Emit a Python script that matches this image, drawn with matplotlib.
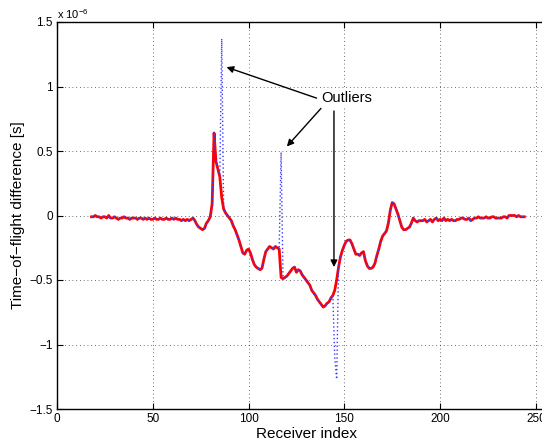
import numpy as np
import matplotlib
matplotlib.use("Agg")
import matplotlib.pyplot as plt

plt.rcParams["font.family"] = ["Liberation Sans", "DejaVu Sans"]

# ---------------------------------------------------------------------------
# Data: time-of-flight difference per receiver, in units of 1e-6 s
# ---------------------------------------------------------------------------
receiver_start = 18
filtered_us = [
    -0.01, -0.01, 0.00, -0.01, -0.01, -0.02, -0.01, -0.01, -0.02, 0.00,    # 18-27
    -0.02, -0.02, -0.01, -0.02, -0.03, -0.02, -0.02, -0.01, -0.02, -0.02,  # 28-37
    -0.03, -0.02, -0.02, -0.02, -0.03, -0.02, -0.02, -0.03, -0.02, -0.03,  # 38-47
    -0.02, -0.03, -0.03, -0.02, -0.03, -0.03, -0.02, -0.03, -0.03, -0.02,  # 48-57
    -0.03, -0.03, -0.02, -0.03, -0.02, -0.03, -0.03, -0.04, -0.03, -0.04,  # 58-67
    -0.03, -0.04, -0.03, -0.02, -0.04, -0.07, -0.09, -0.10, -0.11, -0.10,  # 68-77
    -0.06, -0.04, -0.01, 0.09, 0.64, 0.42, 0.36, 0.30, 0.14, 0.05,         # 78-87
    0.02, 0.00, -0.02, -0.04, -0.08, -0.11, -0.15, -0.19, -0.24, -0.29,    # 88-97
    -0.30, -0.27, -0.26, -0.29, -0.34, -0.38, -0.40, -0.41, -0.42, -0.41,  # 98-107
    -0.34, -0.28, -0.26, -0.24, -0.25, -0.26, -0.24, -0.25, -0.26, -0.48,  # 108-117
    -0.49, -0.48, -0.47, -0.45, -0.43, -0.41, -0.40, -0.44, -0.42, -0.43,  # 118-127
    -0.46, -0.48, -0.50, -0.52, -0.54, -0.58, -0.60, -0.62, -0.65, -0.67,  # 128-137
    -0.69, -0.71, -0.70, -0.68, -0.67, -0.64, -0.62, -0.58, -0.50, -0.40,  # 138-147
    -0.32, -0.27, -0.23, -0.20, -0.19, -0.19, -0.22, -0.26, -0.30, -0.30,  # 148-157
    -0.31, -0.29, -0.28, -0.35, -0.39, -0.41, -0.41, -0.40, -0.37, -0.31,  # 158-167
    -0.26, -0.20, -0.16, -0.14, -0.12, -0.06, 0.04, 0.10, 0.09, 0.05,      # 168-177
    0.01, -0.04, -0.09, -0.11, -0.11, -0.10, -0.09, -0.06, -0.02, -0.04,   # 178-187
    -0.05, -0.04, -0.04, -0.04, -0.03, -0.05, -0.04, -0.03, -0.05, -0.03,  # 188-197
    -0.02, -0.04, -0.03, -0.04, -0.02, -0.04, -0.03, -0.04, -0.03, -0.04,  # 198-207
    -0.04, -0.03, -0.03, -0.02, -0.02, -0.03, -0.03, -0.02, -0.04, -0.03,  # 208-217
    -0.02, -0.02, -0.01, -0.02, -0.02, -0.02, -0.01, -0.02, -0.02, -0.01,  # 218-227
    -0.01, -0.02, -0.02, -0.02, -0.02, -0.01, -0.01, -0.02, 0.00, 0.00,    # 228-237
    0.00, 0.00, -0.01, 0.00, -0.01, -0.01, -0.01,                          # 238-244
]

# raw measurement = filtered curve except at the outlier receivers
outlier_receivers = [86, 117, 145, 146]
outlier_values_us = [1.37, 0.49, -1.10, -1.27]

receivers = np.arange(receiver_start, receiver_start + len(filtered_us))
filtered = np.array(filtered_us) * 1e-6
raw = filtered.copy()
for r, v in zip(outlier_receivers, outlier_values_us):
    raw[r - receiver_start] = v * 1e-6

# ---------------------------------------------------------------------------
# Figure
# ---------------------------------------------------------------------------
fig = plt.figure(figsize=(5.42, 4.41), dpi=100)
ax = fig.add_axes([57 / 542, 32 / 441, 498 / 542, 387 / 441])

ax.plot(receivers, filtered, color="red", lw=2.0, zorder=2)
ax.plot(receivers, raw, color="#3a3aff", lw=1.0, linestyle=(0, (1, 1.8)), zorder=3)

ax.set_xlim(0, 260)
ax.set_ylim(-1.5e-6, 1.5e-6)
ax.set_xticks([0, 50, 100, 150, 200, 250])
yt = [-1.5, -1, -0.5, 0, 0.5, 1, 1.5]
ax.set_yticks([v * 1e-6 for v in yt])
ax.set_yticklabels(["\u22121.5", "\u22121", "\u22120.5", "0", "0.5", "1", "1.5"])
ax.tick_params(direction="in", length=4, width=0.8, labelsize=8.5, top=True, right=True, pad=3)
ax.grid(True, color="black", linestyle=(0, (1, 3.5)), linewidth=0.6, alpha=0.75)
for s in ax.spines.values():
    s.set_linewidth(1.0)

ax.set_xlabel("Receiver index", fontsize=11, labelpad=1)
ax.set_ylabel("Time\u2212of\u2212flight difference [s]", fontsize=11, labelpad=3)
fig.text(57 / 542, 1 - 14 / 441, "x 10$^{\\mathregular{\u22126}}$", fontsize=8, va="center", ha="left")

# annotations
arrow = dict(arrowstyle="-|>", color="black", lw=1.0, mutation_scale=10, shrinkA=0, shrinkB=0)
ax.annotate("", xy=(88.5, 1.15e-6), xytext=(135.5, 0.91e-6), arrowprops=arrow)
ax.annotate("", xy=(120.0, 0.535e-6), xytext=(137.8, 0.83e-6), arrowprops=arrow)
ax.annotate("", xy=(144.6, -0.40e-6), xytext=(144.6, 0.81e-6), arrowprops=arrow)
ax.text(151.4, 0.91e-6, "Outliers", fontsize=10.5, ha="center", va="center",
        bbox=dict(facecolor="white", edgecolor="none", pad=1.5))

fig.savefig("out.png", dpi=100)
